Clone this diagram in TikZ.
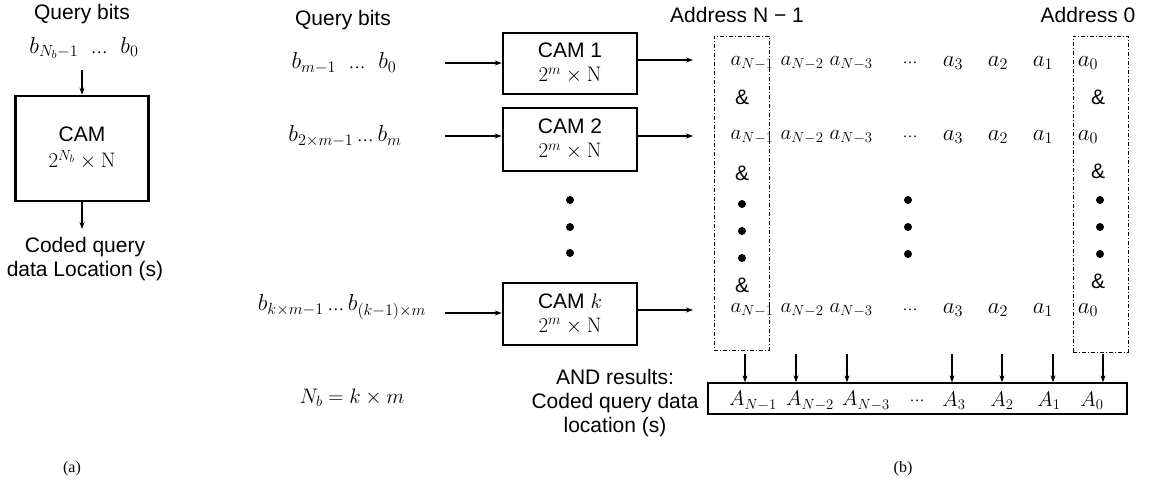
\RequirePackage{fix-cm}
\documentclass[tikz,border=0pt]{standalone}
\usepackage{graphicx}
\usepackage[no-math]{fontspec}
\setmainfont{Liberation Sans}
\newfontfamily\capfont{Liberation Serif}
\newcommand{\eli}{\mbox{\capfont\fontsize{15}{15}\selectfont …}}
\newcommand{\mbig}[1]{\scalebox{1.1}{$#1$}}
\usetikzlibrary{arrows.meta}
\begin{document}
\begin{tikzpicture}[x=1pt,y=-1pt,
  lbl/.style={font=\fontsize{21}{24}\selectfont, align=center, inner sep=0pt},
  mth/.style={font=\fontsize{21}{24}\selectfont, inner sep=0pt},
  cambox/.style={draw, line width=2.6pt, align=center, font=\fontsize{21}{24}\selectfont, inner sep=0pt},
  resbox/.style={draw, line width=1.3pt, inner sep=0pt},
  addrbox/.style={draw, line width=0.8pt, dash pattern=on 4pt off 2pt on 1pt off 2pt, inner sep=0pt},
  arr/.style={line width=1.1pt, -{Stealth[length=7pt,width=5pt]}},
  blob/.style={circle, fill, inner sep=0pt, minimum size=8pt},
  amp/.style={font=\fontsize{21}{24}\selectfont, inner sep=0pt},
  captext/.style={font=\capfont\fontsize{16}{18}\selectfont, inner sep=0pt}]
\useasboundingbox (0,0) rectangle (1152,483);

% ---------------- (a) ----------------
\node[lbl] (qa) at (82,14) {Query bits};
\node[mth] (ba) at (84,48) {\mbig{b_{N_b-1}\;\;\eli\;\; b_0}};
\node[cambox, minimum width=133pt, minimum height=105pt] (cama) at (82,148.5) {CAM\\[2pt]$2^{N_b}\times\mathrm{N}$};
\coordinate (ain) at (82,70);
\coordinate (aout) at (82,229);
\draw[arr] (ain) -- (cama.north);
\draw[arr] (cama.south) -- (aout);
\node[lbl] (locA) at (85,259) {Coded query\\data Location (s)};
\node[captext] (capa) at (72,469) {(a)};

% ---------------- (b) ----------------
\node[lbl] (qb) at (343,20) {Query bits};
\node[mth] (b1) at (344,63) {\mbig{b_{m-1}\;\;\eli\;\; b_0}};
\node[mth] (b2) at (345,136) {\mbig{b_{2\times m-1}\,\eli\, b_m}};
\node[mth] (bk) at (342,307) {\mbig{b_{k\times m-1}\,\eli\, b_{(k-1)\times m}}};
\node[mth] (nb) at (352,398) {$N_b=k\times m$};

\node[cambox, minimum width=134pt, minimum height=61pt] (cam1) at (570,63.5) {CAM 1\\$2^{m}\times\mathrm{N}$};
\node[cambox, minimum width=134pt, minimum height=63pt] (cam2) at (570,139.5) {CAM 2\\$2^{m}\times\mathrm{N}$};
\node[cambox, minimum width=134pt, minimum height=62pt] (camk) at (570,314) {CAM $k$\\$2^{m}\times\mathrm{N}$};

\coordinate (i1) at (445,63);
\coordinate (i2) at (445,136);
\coordinate (ik) at (445,313);
\coordinate (o1) at (693,60);
\coordinate (o2) at (693,136);
\coordinate (ok) at (693,310);
\draw[arr] (i1) -- (i1 -| cam1.west);
\draw[arr] (i2) -- (i2 -| cam2.west);
\draw[arr] (ik) -- (ik -| camk.west);
\draw[arr] (o1 -| cam1.east) -- (o1);
\draw[arr] (o2 -| cam2.east) -- (o2);
\draw[arr] (ok -| camk.east) -- (ok);

\node[blob] (d1) at (570,200) {};
\node[blob] (d2) at (570,227) {};
\node[blob] (d3) at (570,253) {};

% address labels and boxes
\node[lbl] (addrN) at (737,15) {Address N − 1};
\node[lbl] (addr0) at (1088,15) {Address 0};
\node[addrbox, minimum width=55pt, minimum height=314pt] (boxN) at (741.5,193) {};
\node[addrbox, minimum width=55pt, minimum height=316pt] (box0) at (1100.5,194) {};

% rows of a's
\foreach \r/\y in {1/63, 2/137, k/310} {
  \node[mth] (aN1\r) at (752,\y) {$a_{N-1}$};
  \node[mth] (aN2\r) at (802,\y) {$a_{N-2}$};
  \node[mth] (aN3\r) at (851,\y) {$a_{N-3}$};
  \node[mth] (adots\r) at (910,\y) {$\eli$};
  \node[mth] (a3\r) at (953,\y) {\mbig{a_{3}}};
  \node[mth] (a2\r) at (998,\y) {\mbig{a_{2}}};
  \node[mth] (a1\r) at (1043,\y) {\mbig{a_{1}}};
  \node[mth] (a0\r) at (1088,\y) {\mbig{a_{0}}};
}

% & and dots
\node[amp] (ampL1) at (742,97) {\&};
\node[amp] (ampL2) at (742,173) {\&};
\node[amp] (ampL3) at (742,285) {\&};
\node[amp] (ampR1) at (1098,97) {\&};
\node[amp] (ampR2) at (1098,171) {\&};
\node[amp] (ampR3) at (1098,281) {\&};
\node[blob] (dl1) at (742,204) {};
\node[blob] (dl2) at (742,231) {};
\node[blob] (dl3) at (742,258) {};
\node[blob] (dm1) at (908,200) {};
\node[blob] (dm2) at (908,227) {};
\node[blob] (dm3) at (908,254) {};
\node[blob] (dr1) at (1100,200) {};
\node[blob] (dr2) at (1100,227) {};
\node[blob] (dr3) at (1100,254) {};

% result box
\node[resbox, minimum width=419pt, minimum height=31pt] (res) at (917.5,398.5) {};
\node[mth] (AN1) at (753,401) {$A_{N-1}$};
\node[mth] (AN2) at (810,401) {$A_{N-2}$};
\node[mth] (AN3) at (866,401) {$A_{N-3}$};
\node[mth] (Adots) at (917,401) {$\eli$};
\node[mth] (A3) at (954,401) {$A_{3}$};
\node[mth] (A2) at (1002,401) {$A_{2}$};
\node[mth] (A1) at (1049,401) {$A_{1}$};
\node[mth] (A0) at (1092,401) {$A_{0}$};

\foreach \n/\x in {t1/745, t2/796, t3/847, t4/952, t5/1002, t6/1053, t7/1103} {
  \coordinate (\n) at (\x,354);
  \draw[arr] (\n) -- (\n |- res.north);
}

\node[lbl] (andres) at (615,403) {AND results:\\Coded query data\\location (s)};
\node[captext] (capb) at (903,469) {(b)};
\end{tikzpicture}
\end{document}
